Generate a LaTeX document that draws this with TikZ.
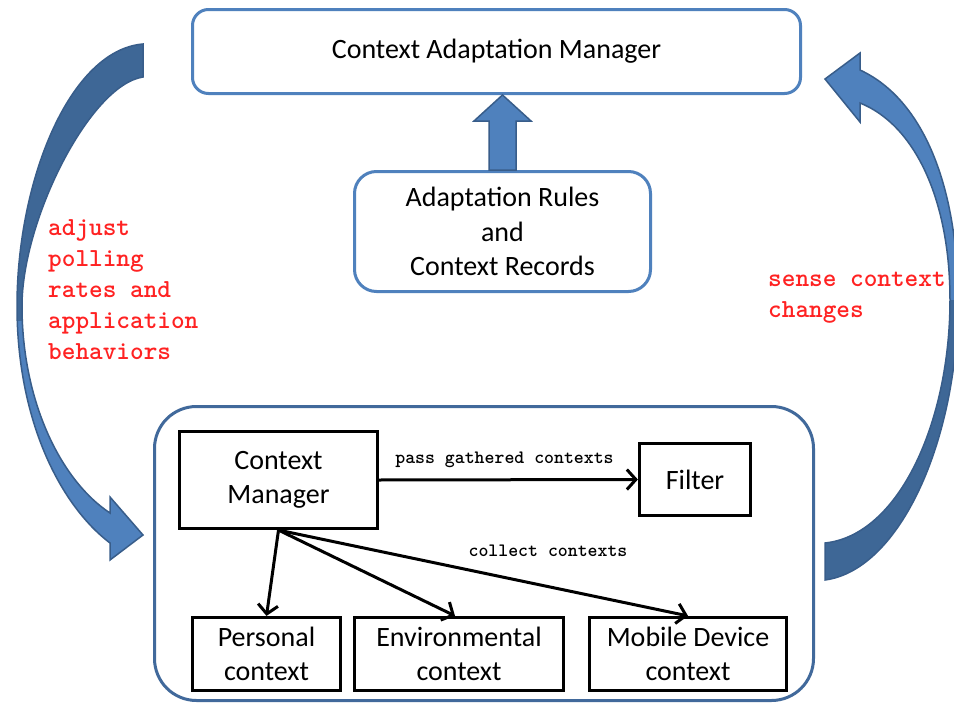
\documentclass[tikz,border=0pt]{standalone}
\usepackage{fontspec}
\setmainfont{Carlito}
\usetikzlibrary{arrows.meta,calc}

\definecolor{boxblue}{HTML}{4F81BD}
\definecolor{frameblue}{HTML}{41699B}
\definecolor{arrowlight}{HTML}{4F81BD}
\definecolor{arrowdark}{HTML}{3E6796}
\definecolor{arrowedge}{HTML}{385D8A}
\definecolor{notered}{HTML}{FF2222}

% outlines of the two curved feedback arrows
\def\leftcurve{(143,44) .. controls (70,50) and (17,180) .. (17,306)
  .. controls (17,420) and (60,505) .. (110,543) -- (110,560) -- (143,535)
  -- (110,497) -- (110,513) .. controls (60,480) and (22,400) .. (22,306)
  .. controls (22,220) and (90,85) .. (143,77) -- cycle}
\def\rightcurve{(860,70) .. controls (925,100) and (958,190) .. (958,300)
  .. controls (958,440) and (900,570) .. (825,580) -- (825,543)
  .. controls (900,535) and (950,420) .. (950,300)
  .. controls (950,200) and (915,125) .. (860,103) -- (860,122) -- (825,79)
  -- (860,53) -- cycle}

\begin{document}
\begin{tikzpicture}[x=1pt,y=-1pt,
  roundbox/.style={draw=boxblue, line width=3pt, rounded corners=16pt,
    inner sep=0pt, align=center, font=\fontsize{28}{34.5}\selectfont},
  plainbox/.style={draw=black, line width=3.2pt, inner sep=0pt, align=center,
    font=\fontsize{28}{34}\selectfont},
  flow/.style={draw=black, line width=3pt,
    -{Straight Barb[length=9pt,width=20pt]}},
  note/.style={text=notered, font=\ttfamily\bfseries\fontsize{26}{31}\selectfont,
    align=left, inner sep=0pt},
  edgelabel/.style={font=\ttfamily\bfseries\fontsize{18.9}{22}\selectfont,
    inner sep=0pt},
  bigarrow/.style={draw=arrowedge, line width=1.5pt, line join=miter}
]
\useasboundingbox (0,0) rectangle (954,704);
\fill[white] (0,0) rectangle (954,704);

% upper part
\node[roundbox, minimum width=608pt, minimum height=84pt] (cam)
  at (496.5,51.5) {Context Adaptation Manager};
\node[roundbox, rounded corners=22pt, minimum width=296pt, minimum height=120pt]
  (rules) at (502.5,231.5) {Adaptation Rules\\and\\Context Records};

% block arrow from the rules store up to the manager
\path (rules.north) coordinate (ub) (rules.north |- cam.south) coordinate (ut);
\draw[bigarrow, fill=arrowlight] ($(ub)+(-13.5,0)$) -- ($(ut)+(-13.5,26)$)
  -- ($(ut)+(-28.5,26)$) -- (ut) -- ($(ut)+(28.5,26)$) -- ($(ut)+(13.5,26)$)
  -- ($(ub)+(13.5,0)$) -- cycle;

% lower part
\node[draw=frameblue, line width=3pt, rounded corners=42pt,
  minimum width=659pt, minimum height=294pt] (frame) at (484,553.5) {};
\node[plainbox, minimum width=198pt, minimum height=97pt] (cm)
  at (278.5,480) {Context\\Manager};
\node[plainbox, minimum width=111pt, minimum height=72pt] (filter)
  at (695,479.5) {Filter};
\node[plainbox, minimum width=148pt, minimum height=73pt] (personal)
  at (266.5,654) {Personal\\context};
\node[plainbox, minimum width=209pt, minimum height=73pt] (env)
  at (459,654) {Environmental\\context};
\node[plainbox, minimum width=197pt, minimum height=73pt] (mobile)
  at (688,654) {Mobile Device\\context};

\draw[flow] (cm.east) -- node[edgelabel, yshift=20pt, xshift=-4pt]
  {pass gathered contexts} (filter.west);
\draw[flow] (cm.south) -- (personal.north);
\draw[flow] (cm.south) -- ($(env.north)+(-4,0)$);
\draw[flow] (cm.south) -- (mobile.north);
\node[edgelabel] (collect) at (548,551) {collect contexts};

% curved feedback arrows
\fill[arrowlight] \leftcurve;
\begin{scope}
  \clip (0,0) rectangle (160,320);
  \fill[arrowdark] \leftcurve;
\end{scope}
\draw[bigarrow] \leftcurve;

\fill[arrowlight] \rightcurve;
\begin{scope}
  \clip (800,300) rectangle (970,600);
  \fill[arrowdark] \rightcurve;
\end{scope}
\draw[bigarrow] \rightcurve;

% annotations
\node[note, anchor=west] (adjust) at (48,290)
  {adjust\\polling\\rates and\\application\\behaviors};
\node[note, anchor=west] (sense) at (768,298) {sense context\\changes};
\end{tikzpicture}
\end{document}
